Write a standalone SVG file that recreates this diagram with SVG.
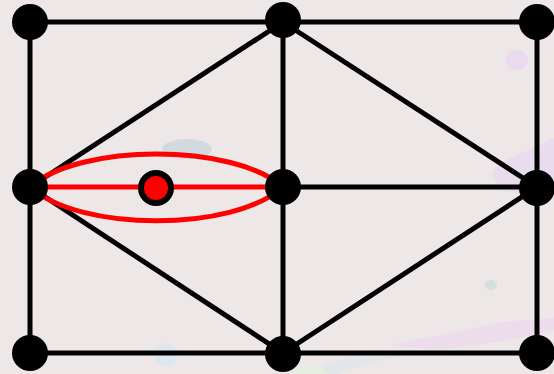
<svg xmlns="http://www.w3.org/2000/svg" width="554" height="374" viewBox="0 0 554 374">
<style>
.e{stroke:#000;stroke-width:5;fill:none;stroke-linecap:round}
.r{stroke:#ff0000;stroke-width:5;fill:none}
.n{fill:#000}
</style>
<rect width="554" height="374" fill="#ede7e7"/>
<g id="background">
<ellipse cx="517" cy="60" rx="11" ry="10" fill="#ead9ef"/>
<path d="M492,175 C495,160 520,155 540,145 L554,138 L554,200 L500,190 Z" fill="#eadcef"/>
<ellipse cx="187" cy="149" rx="25" ry="10" fill="#d3dadf"/>
<ellipse cx="491" cy="285" rx="6" ry="5" fill="#d3e0de"/>
<ellipse cx="166" cy="355" rx="12" ry="12" fill="#dde8ee"/>
<path d="M390,345 C440,335 470,330 500,322 L554,318 L554,330 L510,340 L440,350 Z" fill="#ecdcec"/>
<path d="M300,374 C330,360 360,352 400,350 L420,352 C380,360 350,368 340,374 Z" fill="#e2e6ea"/>
<path d="M290,374 C300,368 310,366 320,366 L330,374 Z" fill="#e3eedf"/>
</g>
<g id="connectors">
<line class="e" x1="30" y1="22" x2="537" y2="22"/>
<line class="e" x1="30" y1="353" x2="537" y2="353"/>
<line class="e" x1="30" y1="22" x2="30" y2="353"/>
<line class="e" x1="283" y1="22" x2="283" y2="353"/>
<line class="e" x1="537" y1="22" x2="537" y2="353"/>
<line class="e" x1="30" y1="187" x2="283" y2="22"/>
<line class="e" x1="30" y1="187" x2="283" y2="353"/>
<line class="e" x1="283" y1="22" x2="537" y2="187"/>
<line class="e" x1="283" y1="353" x2="537" y2="187"/>
<line class="e" x1="283" y1="187" x2="537" y2="187"/>
<line class="r" x1="30" y1="187" x2="283" y2="187"/>
<path class="r" d="M30,187 C80,143 233,143 283,187 C233,232 80,232 30,187 Z"/>
</g>
<g id="n-tl"><circle class="n" cx="30" cy="22" r="18"/></g>
<g id="n-tm"><circle class="n" cx="283" cy="20" r="18"/></g>
<g id="n-tr"><circle class="n" cx="537" cy="22" r="18"/></g>
<g id="n-ml"><circle class="n" cx="30" cy="187" r="18"/></g>
<g id="n-mm"><circle class="n" cx="283" cy="187" r="18"/></g>
<g id="n-mr"><circle class="n" cx="537" cy="188" r="18"/></g>
<g id="n-bl"><circle class="n" cx="30" cy="353" r="18"/></g>
<g id="n-bm"><circle class="n" cx="283" cy="354" r="18"/></g>
<g id="n-br"><circle class="n" cx="537" cy="353" r="18"/></g>
<g id="n-red"><circle cx="156" cy="188" r="15" fill="#ff0000" stroke="#000" stroke-width="6"/></g>
</svg>
